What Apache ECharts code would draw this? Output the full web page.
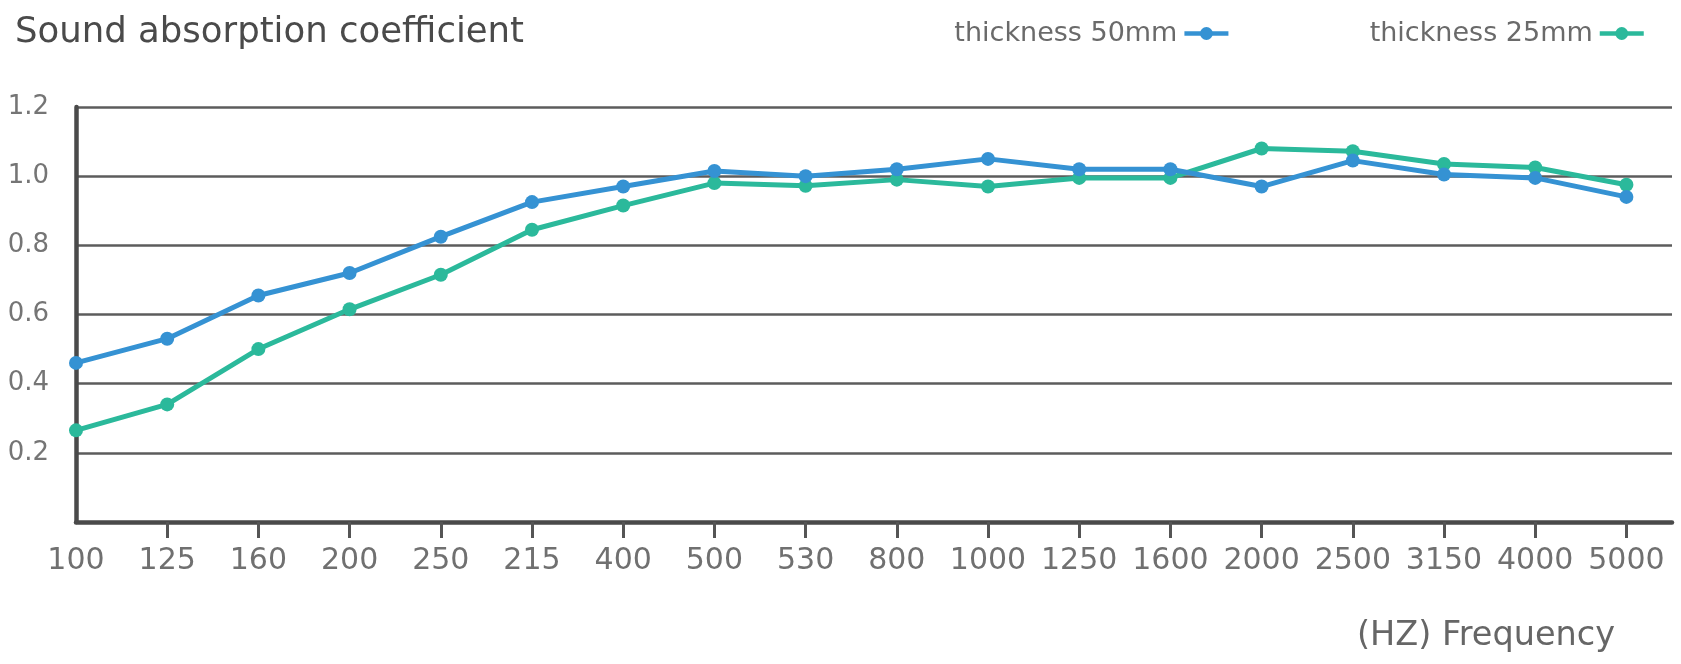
<!DOCTYPE html>
<html>
<head>
<meta charset="utf-8">
<script src="https://cdn.jsdelivr.net/npm/echarts@6/dist/echarts.min.js"></script>
<style>
  html, body { margin: 0; padding: 0; background: #ffffff; }
  #chart { width: 1681px; height: 664px; }
</style>
</head>
<body>
<div id="chart"></div>
<script>
// Frequency categories (Hz) as printed on the x axis
const categories = ['100','125','160','200','250','215','400','500','530','800','1000','1250','1600','2000','2500','3150','4000','5000'];
// Sound absorption coefficient, thickness 50mm
const thickness50 = [0.46, 0.53, 0.655, 0.72, 0.825, 0.925, 0.97, 1.015, 1.0, 1.02, 1.05, 1.02, 1.02, 0.97, 1.045, 1.005, 0.995, 0.94];
// Sound absorption coefficient, thickness 25mm
const thickness25 = [0.265, 0.34, 0.50, 0.615, 0.715, 0.845, 0.915, 0.98, 0.972, 0.99, 0.97, 0.995, 0.995, 1.08, 1.072, 1.035, 1.025, 0.975];
const seriesNames = ['thickness 50mm', 'thickness 25mm'];
const yTicks = [0, 0.2, 0.4, 0.6, 0.8, 1.0, 1.2];

const FONT = 'DejaVu Sans';
const idx = categories.map((_, i) => i);

const chart = echarts.init(document.getElementById('chart'), null, { renderer: 'canvas' });
chart.setOption({
  animation: false,
  backgroundColor: '#ffffff',
  title: [
    {
      text: 'Sound absorption coefficient',
      left: 15, top: 15, padding: 0,
      textStyle: { fontFamily: FONT, fontSize: 35.5, fontWeight: 'normal', color: '#4a4a4a' }
    },
    {
      text: '(HZ) Frequency',
      right: 66, top: 619, padding: 0,
      textStyle: { fontFamily: FONT, fontSize: 33.5, fontWeight: 'normal', color: '#666666' }
    }
  ],
  legend: {
    right: 30, top: 15,
    align: 'right',
    itemGap: 139,
    itemWidth: 44, itemHeight: 16,
    lineStyle: { width: 4.5 },
    textStyle: { fontFamily: FONT, fontSize: 27, color: '#6a6a6a', padding: [0, 2, 0, 0] },
    data: seriesNames
  },
  grid: { left: 76, right: 9, top: 107, bottom: 142, containLabel: false },
  xAxis: {
    type: 'value',
    min: 0, max: 17.5, interval: 1,
    axisLine: { show: true, lineStyle: { color: '#4a4a4a', width: 4.5 } },
    axisTick: { show: true, customValues: idx.slice(1), length: 16, inside: false, lineStyle: { color: '#555555', width: 3 } },
    axisLabel: {
      customValues: idx,
      margin: 24,
      fontFamily: FONT, fontSize: 30, color: '#707070',
      formatter: (v) => categories[Math.round(v)] || ''
    },
    splitLine: { show: false }
  },
  yAxis: {
    type: 'value',
    min: 0, max: 1.2, interval: 0.2,
    axisLine: { show: true, lineStyle: { color: '#4a4a4a', width: 4.5 } },
    axisTick: { show: false },
    axisLabel: {
      showMinLabel: false,
      margin: 27,
      fontFamily: FONT, fontSize: 26, color: '#757575',
      formatter: (v) => v.toFixed(1)
    },
    splitLine: { show: true, lineStyle: { color: '#5c5c5c', width: 2.5 } }
  },
  series: [
    {
      name: seriesNames[0],
      type: 'line',
      data: thickness50.map((v, i) => [i, v]),
      symbol: 'circle', symbolSize: 14,
      lineStyle: { color: '#3592d3', width: 5 },
      itemStyle: { color: '#3592d3' },
      z: 3
    },
    {
      name: seriesNames[1],
      type: 'line',
      data: thickness25.map((v, i) => [i, v]),
      symbol: 'circle', symbolSize: 14,
      lineStyle: { color: '#2bb99b', width: 5 },
      itemStyle: { color: '#2bb99b' },
      z: 2
    }
  ]
});
</script>
</body>
</html>
